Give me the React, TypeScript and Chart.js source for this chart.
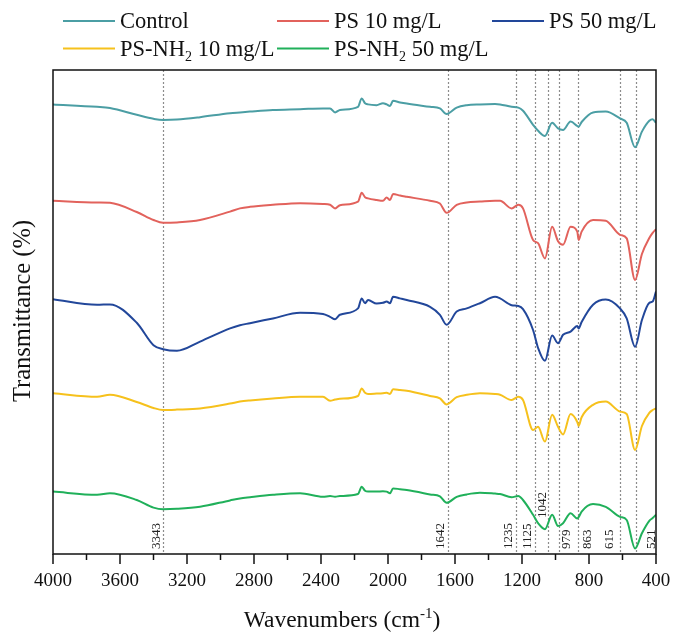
import { useEffect, useRef } from "react";
import { Chart, registerables } from "chart.js";

Chart.register(...registerables);

const FONT = '"Liberation Serif", "Times New Roman", serif';

const wavenumbers = [
  4000, 3737, 3660, 3500, 3400, 3343, 3260, 3122, 2943, 2884, 2824, 2687, 2525, 2388, 2346, 2316, 2287,
  2179, 2157, 2137, 2119, 2068, 2030, 2008, 1988, 1970, 1928, 1888, 1749, 1690, 1650, 1590, 1530, 1451,
  1361, 1331, 1262, 1222, 1194, 1134, 1104, 1063, 1020, 985, 955, 910, 870, 862, 844, 776, 700, 615, 575,
  525, 484, 440, 420, 400,
];

const control = [
  112.4, 111.8, 111.5, 109.8, 108.8, 108.5, 108.6, 109.2, 110.2, 110.4, 110.6, 111.0, 111.2, 111.4, 111.4, 110.4, 111.0,
  111.8, 113.9, 112.7, 112.4, 112.2, 112.7, 112.4, 112.0, 113.3, 112.9, 112.6, 111.8, 111.4, 110.0, 111.6, 112.2, 112.4,
  112.5, 112.4, 111.8, 111.6, 110.8, 107.3, 105.8, 104.5, 107.8, 106.4, 106.0, 108.1, 107.0, 106.8, 108.0, 110.4, 110.6, 108.9, 107.8,
  101.7, 105.6, 108.3, 108.7, 107.8,
];

const ps10 = [
  88.3, 87.9, 87.8, 85.5, 83.5, 82.8, 82.9, 83.5, 85.6, 86.4, 86.8, 87.3, 87.7, 87.5, 87.3, 86.4, 87.2,
  88.1, 90.3, 89.2, 88.9, 88.5, 88.3, 89.1, 88.5, 90.0, 89.6, 89.3, 88.3, 87.6, 85.3, 87.3, 87.9, 88.1,
  88.3, 88.3, 86.4, 87.3, 86.4, 78.5, 77.7, 73.9, 81.8, 78.2, 77.3, 81.8, 80.6, 78.5, 80.6, 83.5, 83.3, 79.8, 78.9,
  68.5, 75.0, 79.0, 80.3, 81.2,
];

const ps50 = [
  63.7, 62.3, 62.4, 57.8, 52.2, 51.2, 50.8, 53.1, 56.4, 57.2, 57.7, 58.9, 60.3, 60.0, 59.3, 58.7, 59.8,
  61.4, 63.9, 62.7, 63.5, 62.6, 62.8, 63.1, 62.7, 64.3, 63.9, 63.5, 61.8, 59.8, 57.3, 60.6, 61.4, 62.7,
  64.3, 63.9, 62.2, 62.0, 61.2, 56.0, 51.5, 48.3, 54.6, 52.7, 54.8, 55.6, 57.0, 56.4, 58.0, 62.3, 63.6, 61.4, 58.9,
  51.8, 58.5, 62.8, 63.1, 65.6,
];

const psNh2_10 = [
  40.2, 39.3, 39.8, 38.0, 36.5, 36.0, 36.1, 36.4, 37.6, 38.1, 38.4, 38.9, 39.3, 39.3, 38.3, 38.6, 38.8,
  39.5, 41.4, 40.3, 40.0, 40.1, 40.2, 40.3, 40.0, 41.2, 41.0, 40.8, 39.5, 38.9, 37.4, 39.2, 39.8, 40.2,
  40.0, 39.8, 38.5, 39.3, 38.5, 31.0, 31.8, 28.1, 34.8, 31.8, 29.9, 35.0, 33.0, 32.0, 34.2, 37.3, 38.1, 35.6, 35.0,
  26.0, 32.0, 35.3, 36.0, 36.4,
];

const psNh2_50 = [
  15.6, 14.8, 15.2, 13.5, 11.6, 11.2, 11.3, 11.8, 13.4, 13.9, 14.2, 14.8, 15.2, 14.3, 14.5, 14.3, 14.5,
  15.0, 16.8, 15.8, 15.6, 15.6, 15.7, 15.6, 15.2, 16.4, 16.2, 16.0, 14.9, 14.4, 12.8, 14.3, 14.9, 15.3,
  15.1, 15.0, 14.2, 14.5, 13.5, 9.8, 7.7, 6.2, 9.8, 7.0, 7.7, 10.2, 8.9, 9.2, 10.6, 12.5, 11.8, 9.3, 8.5,
  1.4, 5.2, 8.3, 9.0, 9.8,
];

const seriesNames = ["Control", "PS 10 mg/L", "PS 50 mg/L", "PS-NH₂ 10 mg/L", "PS-NH₂ 50 mg/L"];
const seriesValues = [control, ps10, ps50, psNh2_10, psNh2_50];
const seriesColors = ["#4b9ea4", "#e2625c", "#22479a", "#f6c11c", "#20b05a"];

const peakPositions = [3343, 1642, 1235, 1125, 1042, 979, 863, 615, 521];
const xTickValues = [4000, 3600, 3200, 2800, 2400, 2000, 1600, 1200, 800, 400];
const xMinorTickValues = [3800, 3400, 3000, 2600, 2200, 1800, 1400, 1000, 600];

const xTitle = "Wavenumbers (cm";
const xTitleSup = "-1";
const xTitleEnd = ")";
const yTitle = "Transmittance (%)";

// label placement (style): baseline offset from the line, bottom of text
const labelOffset: Record<number, number> = {
  3343: -3, 1642: -4, 1235: -4, 1125: -4, 1042: -2, 979: 11, 863: 13, 615: -7, 521: 19,
};
const labelBottom: Record<number, number> = { 1042: 518 };

function drawRich(ctx: CanvasRenderingContext2D, text: string, x: number, y: number, size: number) {
  const parts = text.split("₂");
  let cx = x;
  parts.forEach((p, i) => {
    ctx.font = `${size}px ${FONT}`;
    ctx.fillText(p, cx, y);
    cx += ctx.measureText(p).width;
    if (i < parts.length - 1) {
      const s = Math.round(size * 0.64);
      ctx.font = `${s}px ${FONT}`;
      ctx.fillText("2", cx, y + 5);
      cx += ctx.measureText("2").width;
    }
  });
  return cx;
}

const annotPlugin = {
  id: "annot",
  beforeDatasetsDraw(chart: any) {
    const { ctx, chartArea: a } = chart;
    const x = chart.scales.x;
    ctx.save();
    ctx.strokeStyle = "#8c8c8c";
    ctx.lineWidth = 1.2;
    ctx.setLineDash([2, 2]);
    for (const p of peakPositions) {
      const px = Math.round(x.getPixelForValue(p)) + 0.5;
      ctx.beginPath();
      ctx.moveTo(px, a.top);
      ctx.lineTo(px, a.bottom);
      ctx.stroke();
    }
    ctx.restore();
  },
  afterDraw(chart: any) {
    const { ctx, chartArea: a } = chart;
    const x = chart.scales.x;
    ctx.save();
    // frame
    ctx.strokeStyle = "#111";
    ctx.lineWidth = 1.5;
    ctx.strokeRect(a.left, a.top, a.right - a.left, a.bottom - a.top);
    // ticks
    for (const v of xTickValues) {
      const px = x.getPixelForValue(v);
      ctx.beginPath();
      ctx.moveTo(px, a.bottom);
      ctx.lineTo(px, a.bottom + 10);
      ctx.stroke();
    }
    for (const v of xMinorTickValues) {
      const px = x.getPixelForValue(v);
      ctx.beginPath();
      ctx.moveTo(px, a.bottom);
      ctx.lineTo(px, a.bottom + 6);
      ctx.stroke();
    }
    // peak labels
    ctx.fillStyle = "#222";
    ctx.font = `13px ${FONT}`;
    ctx.textAlign = "left";
    ctx.textBaseline = "alphabetic";
    for (const p of peakPositions) {
      const px = x.getPixelForValue(p) + (labelOffset[p] ?? -4);
      const by = labelBottom[p] ?? a.bottom - 5;
      ctx.save();
      ctx.translate(px, by);
      ctx.rotate(-Math.PI / 2);
      ctx.fillText(String(p), 0, 0);
      ctx.restore();
    }
    // legend
    const slots = [
      [63, 21, 28],
      [277, 21, 28],
      [492, 21, 28],
      [63, 48.5, 56],
      [277, 48.5, 56],
    ];
    ctx.fillStyle = "#111";
    seriesNames.forEach((name, i) => {
      const [lx, ly, tb] = slots[i];
      ctx.strokeStyle = seriesColors[i];
      ctx.lineWidth = 2;
      ctx.beginPath();
      ctx.moveTo(lx, ly);
      ctx.lineTo(lx + 52, ly);
      ctx.stroke();
      drawRich(ctx, name, lx + 57, tb, 22.5);
    });
    // x title
    ctx.font = `23.5px ${FONT}`;
    const w1 = ctx.measureText(xTitle).width;
    const w3 = ctx.measureText(xTitleEnd).width;
    ctx.font = `15px ${FONT}`;
    const w2 = ctx.measureText(xTitleSup).width;
    let tx = 342 - (w1 + w2 + w3) / 2;
    const tb = 627;
    ctx.font = `23.5px ${FONT}`;
    ctx.fillText(xTitle, tx, tb);
    tx += w1;
    ctx.font = `15px ${FONT}`;
    ctx.fillText(xTitleSup, tx, tb - 9);
    tx += w2;
    ctx.font = `23.5px ${FONT}`;
    ctx.fillText(xTitleEnd, tx, tb);
    // y title
    ctx.save();
    ctx.translate(24, 311);
    ctx.rotate(-Math.PI / 2);
    ctx.textAlign = "center";
    ctx.textBaseline = "middle";
    ctx.font = `24.5px ${FONT}`;
    ctx.fillText(yTitle, 0, 0);
    ctx.restore();
    ctx.restore();
  },
};

export default function App() {
  const ref = useRef<HTMLCanvasElement>(null);
  useEffect(() => {
    document.body.style.margin = "0";
    const chart = new Chart(ref.current!, {
      type: "line",
      data: {
        datasets: seriesNames.map((name, i) => ({
          label: name,
          data: wavenumbers.map((w, j) => ({ x: w, y: seriesValues[i][j] })),
          borderColor: seriesColors[i],
          borderWidth: 2,
          pointRadius: 0,
          fill: false,
          cubicInterpolationMode: "monotone" as const,
        })),
      },
      options: {
        animation: false,
        responsive: false,
        layout: { padding: { left: 53, right: 20, top: 70, bottom: 0 } },
        plugins: { legend: { display: false }, tooltip: { enabled: false } },
        scales: {
          x: {
            type: "linear",
            reverse: true,
            min: 400,
            max: 4000,
            afterFit: (s: any) => {
              s.height = 85;
              s.paddingLeft = 0;
              s.paddingRight = 0;
            },
            afterBuildTicks: (s: any) => {
              s.ticks = xTickValues.map((v) => ({ value: v }));
            },
            grid: { display: false, drawTicks: false },
            border: { display: false },
            ticks: {
              padding: 16,
              color: "#111",
              autoSkip: false,
              maxRotation: 0,
              font: { family: FONT, size: 19 },
              callback: (v: any) => String(v),
            },
          },
          y: { display: false, min: 0, max: 121 },
        },
      },
      plugins: [annotPlugin],
    });
    return () => chart.destroy();
  }, []);
  return (
    <div style={{ width: 676, height: 639 }}>
      <canvas ref={ref} width={676} height={639} style={{ display: "block" }} />
    </div>
  );
}
